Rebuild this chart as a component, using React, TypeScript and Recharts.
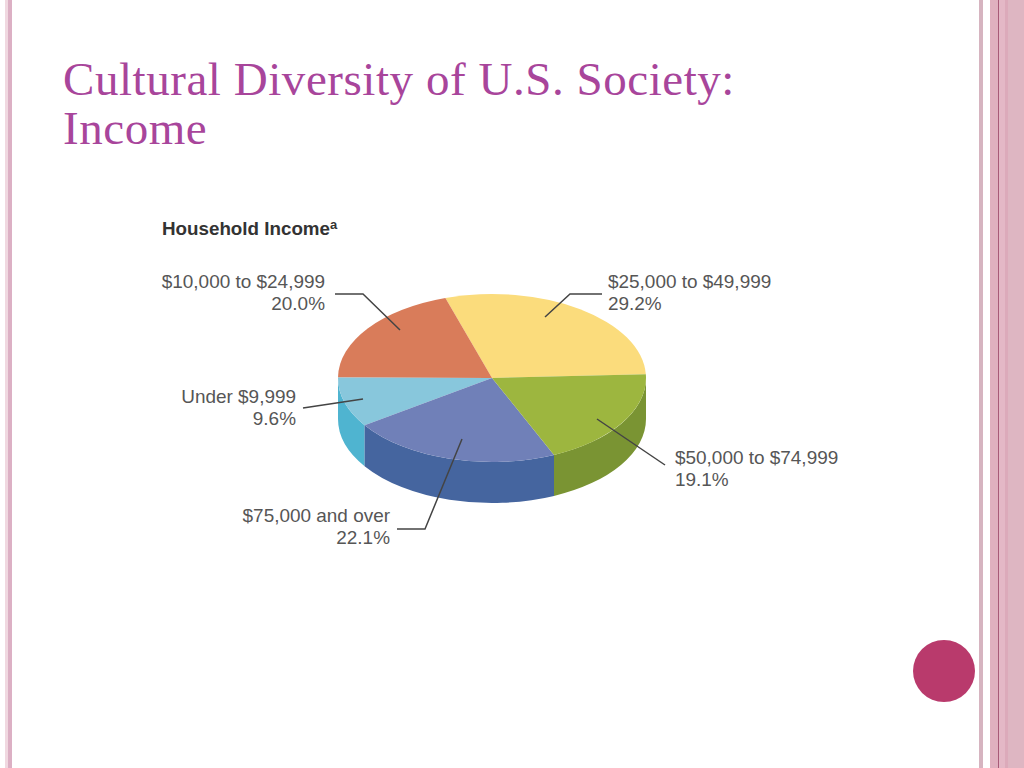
import React from "react";
import { PieChart, Pie } from "recharts";

const categories = [
  "$25,000 to $49,999",
  "$10,000 to $24,999",
  "Under $9,999",
  "$75,000 and over",
  "$50,000 to $74,999",
];
const shares = [29.2, 20.0, 9.6, 22.1, 19.1];
const topColors = ["#fbdc7c", "#d97c5a", "#88c7dc", "#7080b8", "#9db63f"];
const sideColors = ["#d8b860", "#b5603f", "#4fb4d0", "#45659f", "#7a9433"];

const chartTitle = "Household Income";
const slideTitleLines = ["Cultural Diversity of U.S. Society:", "Income"];

const callouts = [
  { x: 608, y: 288, anchor: "start", line: "602,294 570,294 545,317" },
  { x: 325, y: 288, anchor: "end", line: "335,294 363,294 400,330" },
  { x: 296, y: 403, anchor: "end", line: "303,408 363,399" },
  { x: 390, y: 522, anchor: "end", line: "462,439 425,529 397,529" },
  { x: 675, y: 464, anchor: "start", line: "597,419 665,465" },
];

const rows = categories.map((name, i) => ({
  name,
  value: shares[i],
  fill: topColors[i],
}));

const SQUASH = 84 / 154;
const DEPTH = 41;
const RAD = Math.PI / 180;

function EllipseSlice(props: any) {
  const { cx, cy, outerRadius, startAngle, endAngle, name, payload } = props;
  const key = name ?? payload?.name;
  const idx = categories.indexOf(key);
  const a0 = Math.min(startAngle, endAngle);
  const a1 = Math.max(startAngle, endAngle);
  const rx = outerRadius;
  const ry = outerRadius * SQUASH;
  const px = (a: number) => cx + rx * Math.cos(a * RAD);
  const py = (a: number) => cy - ry * Math.sin(a * RAD);
  const large = a1 - a0 > 180 ? 1 : 0;
  const top = `M${cx},${cy} L${px(a0)},${py(a0)} A${rx},${ry} 0 ${large} 0 ${px(a1)},${py(a1)} Z`;
  const w0 = Math.max(a0, 180);
  const w1 = Math.min(a1, 360);
  const wall =
    w1 > w0
      ? `M${px(w0)},${py(w0)} A${rx},${ry} 0 0 0 ${px(w1)},${py(w1)} L${px(w1)},${py(w1) + DEPTH} A${rx},${ry} 0 0 1 ${px(w0)},${py(w0) + DEPTH} Z`
      : null;
  return (
    <g>
      {wall && <path d={wall} fill={sideColors[idx]} stroke="none" />}
      <path d={top} fill={topColors[idx]} stroke="none" />
    </g>
  );
}

function Callout(props: any) {
  const i = categories.indexOf(props.name ?? props.payload?.name);
  const c = callouts[i];
  if (!c) return null;
  const textStyle = {
    fontFamily: "'Liberation Sans', Arial, sans-serif",
    fontSize: 18.95,
    fill: "#565656",
  };
  return (
    <g>
      <polyline points={c.line} fill="none" stroke="#444" strokeWidth={1.5} />
      <text x={c.x} y={c.y} textAnchor={c.anchor} style={textStyle}>
        {categories[i]}
      </text>
      <text x={c.x} y={c.y + 22} textAnchor={c.anchor} style={textStyle}>
        {shares[i].toFixed(1)}%
      </text>
    </g>
  );
}

function Stripe({ x, w, color }: { x: number; w: number; color: string }) {
  return (
    <div
      style={{ position: "absolute", left: x, top: 0, width: w, height: 768, background: color }}
    />
  );
}

export default function App() {
  return (
    <div
      style={{
        position: "fixed",
        left: 0,
        top: 0,
        width: 1024,
        height: 768,
        background: "#fff",
        overflow: "hidden",
      }}
    >
      <Stripe x={5} w={3} color="#f0d8e0" />
      <Stripe x={8} w={4} color="#dcb0c4" />
      <Stripe x={979} w={4} color="#d6b4c0" />
      <Stripe x={990} w={8} color="#e0b0bf" />
      <Stripe x={998} w={1} color="#a85a78" />
      <Stripe x={999} w={6} color="#e4b8c6" />
      <Stripe x={1005} w={3} color="#dcaaba" />
      <Stripe x={1008} w={16} color="#deb6c2" />
      {slideTitleLines.map((t, i) => (
        <div
          key={t}
          style={{
            position: "absolute",
            left: 63,
            top: 51 + i * 49,
            fontFamily: "'Liberation Serif', serif",
            fontSize: 47,
            letterSpacing: 0.55,
            lineHeight: "56px",
            color: "#a8459b",
            whiteSpace: "nowrap",
          }}
        >
          {t}
        </div>
      ))}
      <div
        style={{
          position: "absolute",
          left: 913,
          top: 640,
          width: 62,
          height: 62,
          borderRadius: "50%",
          background: "#b93a6c",
        }}
      />
      <div style={{ position: "absolute", left: 0, top: 0 }}>
        <PieChart width={1024} height={768} margin={{ top: 0, right: 0, bottom: 0, left: 0 }}>
          <text
            x={162}
            y={235}
            style={{
              fontFamily: "'Liberation Sans', Arial, sans-serif",
              fontSize: 18.8,
              fontWeight: 700,
              fill: "#333",
            }}
          >
            {chartTitle}
            <tspan dy={-6} fontSize={13}>a</tspan>
          </text>
          <Pie
            data={rows}
            dataKey="value"
            nameKey="name"
            cx={492}
            cy={378}
            outerRadius={154}
            startAngle={2.5}
            endAngle={362.5}
            paddingAngle={0}
            stroke="none"
            shape={EllipseSlice}
            label={Callout}
            labelLine={false}
            isAnimationActive={false}
          />
        </PieChart>
      </div>
    </div>
  );
}
